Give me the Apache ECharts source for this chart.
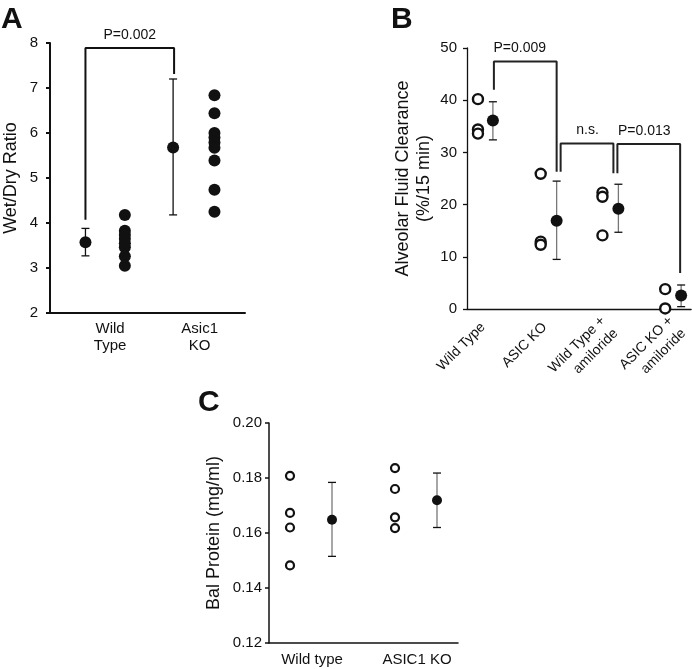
<!DOCTYPE html>
<html>
<head>
<meta charset="utf-8">
<script src="https://cdn.jsdelivr.net/npm/echarts@6/dist/echarts.min.js"></script>
<style>
  html, body { margin: 0; padding: 0; background: #fff; }
  #chart { width: 692px; height: 669px; }
</style>
</head>
<body>
<div id="chart"></div>
<script>
// Panel A - wet/dry ratio
var aLabels = ['Wild\nType', 'Asic1\nKO'];
var aLabelX = [61, 152];
var aMeanX = [36, 125];
var aPointX = [76, 167];
var aMean = [3.57, 5.68];
var aLow = [3.27, 4.18];
var aHigh = [3.88, 7.2];
var aWild = [4.18, 3.83, 3.74, 3.65, 3.55, 3.46, 3.26, 3.05];
var aKO = [6.84, 6.44, 6.0, 5.9, 5.79, 5.67, 5.39, 4.74, 4.25];
var aBracket = [[36, 4.07], [36, 7.89], [126, 7.89], [126, 7.31]];
var aPText = [[81, 7.89, 'P=0.002']];

// Panel B - alveolar fluid clearance
var bLabels = ['Wild Type', 'ASIC KO', 'Wild Type +\namiloride', 'ASIC KO +\namiloride'];
var bLabelX = [16, 78, 143, 211];
var bOpenX = [11, 74, 136, 199];
var bMeanX = [26, 90, 152, 215];
var bOpen = [
  [40.2, 34.4, 33.6],
  [25.9, 12.9, 12.3],
  [22.3, 21.5, 14.1],
  [3.8, 0.1]
];
var bMean = [36.1, 16.9, 19.2, 2.6];
var bLow = [32.4, 9.5, 14.7, 0.45];
var bHigh = [39.7, 24.5, 23.9, 4.6];
var bBrackets = [
  [[27, 42], [27, 47.4], [90, 47.4], [90, 26.3]],
  [[94, 26.3], [94, 31.7], [147, 31.7], [147, 26.0]],
  [[151, 26.0], [151, 31.6], [214, 31.6], [214, 6.9]]
];
var bPText = [[53, 47.4, 'P=0.009'], [121, 31.7, 'n.s.'], [178, 31.6, 'P=0.013']];

// Panel C - BAL protein
var cLabels = ['Wild type', 'ASIC1 KO'];
var cLabelX = [43, 148];
var cOpenX = [21, 126];
var cMeanX = [63, 168];
var cOpen = [
  [0.1808, 0.1673, 0.1620, 0.1482],
  [0.1836, 0.1760, 0.1657, 0.1618]
];
var cMean = [0.1648, 0.1719];
var cLow = [0.1515, 0.1620];
var cHigh = [0.1784, 0.1818];

var font = 'Liberation Sans, Arial, sans-serif';
var ink = '#111';

function errRender(color, cap) {
  return function (params, api) {
    var x = api.value(0);
    var lo = api.coord([x, api.value(1)]);
    var hi = api.coord([x, api.value(2)]);
    return {
      type: 'group',
      children: [
        {type: 'line', shape: {x1: lo[0], y1: lo[1], x2: hi[0], y2: hi[1]}, style: {stroke: color, lineWidth: 1.3}},
        {type: 'line', shape: {x1: lo[0] - cap, y1: lo[1], x2: lo[0] + cap, y2: lo[1]}, style: {stroke: ink, lineWidth: 1.3}},
        {type: 'line', shape: {x1: hi[0] - cap, y1: hi[1], x2: hi[0] + cap, y2: hi[1]}, style: {stroke: ink, lineWidth: 1.3}}
      ]
    };
  };
}

function errData(xs, lo, hi) {
  return xs.map(function (x, i) { return [x, lo[i], hi[i]]; });
}

function column(x, vals) {
  return vals.map(function (v) { return [x, v]; });
}

function textSeries(idx, items) {
  return {
    type: 'scatter', xAxisIndex: idx, yAxisIndex: idx, symbolSize: 0, silent: true,
    itemStyle: {opacity: 1},
    data: items.map(function (t) { return {value: [t[0], t[1]], name: t[2]}; }),
    label: {show: true, position: 'top', distance: 6, formatter: '{b}', color: ink, fontSize: 14, fontFamily: font},
    z: 5
  };
}

var filled = {color: ink, opacity: 1};
var hollow = {color: '#fff', borderColor: ink, borderWidth: 2.4, opacity: 1};

var series = [];

// A
series.push({type: 'line', xAxisIndex: 0, yAxisIndex: 0, data: aBracket, symbol: 'none', lineStyle: {color: ink, width: 2}, silent: true});
series.push(textSeries(0, aPText));
series.push({type: 'custom', xAxisIndex: 0, yAxisIndex: 0, renderItem: errRender(ink, 4), encode: {x: 0, y: [1, 2]}, data: errData(aMeanX, aLow, aHigh)});
series.push({type: 'scatter', xAxisIndex: 0, yAxisIndex: 0, symbolSize: 12, itemStyle: filled, z: 4,
  data: aMeanX.map(function (x, i) { return [x, aMean[i]]; })});
series.push({type: 'scatter', xAxisIndex: 0, yAxisIndex: 0, symbolSize: 12, itemStyle: filled,
  data: column(aPointX[0], aWild).concat(column(aPointX[1], aKO))});

// B
bBrackets.forEach(function (br) {
  series.push({type: 'line', xAxisIndex: 1, yAxisIndex: 1, data: br, symbol: 'none', lineStyle: {color: '#222', width: 2}, silent: true});
});
series.push(textSeries(1, bPText));
series.push({type: 'custom', xAxisIndex: 1, yAxisIndex: 1, renderItem: errRender('#777', 4), encode: {x: 0, y: [1, 2]}, data: errData(bMeanX, bLow, bHigh)});
series.push({type: 'scatter', xAxisIndex: 1, yAxisIndex: 1, symbolSize: 12, itemStyle: filled, z: 4,
  data: bMeanX.map(function (x, i) { return [x, bMean[i]]; })});
var bOpenData = [];
bOpen.forEach(function (vals, i) { bOpenData = bOpenData.concat(column(bOpenX[i], vals)); });
series.push({type: 'scatter', xAxisIndex: 1, yAxisIndex: 1, symbolSize: 10, itemStyle: hollow, z: 4, data: bOpenData});

// C
series.push({type: 'custom', xAxisIndex: 2, yAxisIndex: 2, renderItem: errRender('#777', 4), encode: {x: 0, y: [1, 2]}, data: errData(cMeanX, cLow, cHigh)});
series.push({type: 'scatter', xAxisIndex: 2, yAxisIndex: 2, symbolSize: 10, itemStyle: filled, z: 4,
  data: cMeanX.map(function (x, i) { return [x, cMean[i]]; })});
var cOpenData = [];
cOpen.forEach(function (vals, i) { cOpenData = cOpenData.concat(column(cOpenX[i], vals)); });
series.push({type: 'scatter', xAxisIndex: 2, yAxisIndex: 2, symbolSize: 8, itemStyle: {color: '#fff', borderColor: ink, borderWidth: 2.2, opacity: 1}, z: 4, data: cOpenData});

function xAxisFor(idx, max, labelX, labels, lineW, extra) {
  var lab = Object.assign({
    customValues: labelX,
    formatter: function (v) { return labels[labelX.indexOf(v)] || ''; },
    color: ink, fontSize: 15, fontFamily: font, margin: 7, lineHeight: 17
  }, extra || {});
  return {
    type: 'value', gridIndex: idx, min: 0, max: max,
    axisLine: {show: true, onZero: false, lineStyle: {color: ink, width: lineW}},
    axisTick: {show: false}, splitLine: {show: false},
    axisLabel: lab
  };
}

function yAxisFor(idx, min, max, interval, name, gap, lineW, margin, fmt) {
  return {
    type: 'value', gridIndex: idx, min: min, max: max, interval: interval,
    name: name, nameLocation: 'middle', nameGap: gap,
    nameTextStyle: {color: ink, fontSize: 18, fontFamily: font, lineHeight: 21},
    axisLine: {show: true, lineStyle: {color: ink, width: lineW}},
    axisTick: {show: true, length: 4, lineStyle: {color: ink, width: lineW}},
    splitLine: {show: false},
    axisLabel: {color: ink, fontSize: 15, fontFamily: font, margin: margin, formatter: fmt}
  };
}

var chart = echarts.init(document.getElementById('chart'), null, {renderer: 'canvas'});
chart.setOption({
  animation: false,
  backgroundColor: '#fff',
  title: [
    {text: 'A', left: -4, top: 0, textStyle: {fontSize: 30, fontWeight: 'bold', color: ink, fontFamily: font}},
    {text: 'B', left: 386, top: 0, textStyle: {fontSize: 30, fontWeight: 'bold', color: ink, fontFamily: font}},
    {text: 'C', left: 193, top: 383, textStyle: {fontSize: 30, fontWeight: 'bold', color: ink, fontFamily: font}}
  ],
  grid: [
    {left: 47, top: 43, width: 198, height: 270},
    {left: 467, top: 48, width: 225, height: 261},
    {left: 269, top: 423, width: 189, height: 220}
  ],
  xAxis: [
    xAxisFor(0, 198, aLabelX, aLabels, 2),
    xAxisFor(1, 225, bLabelX, bLabels, 1.3, {rotate: 45, fontSize: 14, lineHeight: 18, margin: 16}),
    xAxisFor(2, 189, cLabelX, cLabels, 1.5, {margin: 8})
  ],
  yAxis: [
    yAxisFor(0, 2, 8, 1, 'Wet/Dry Ratio', 28, 2, 12),
    yAxisFor(1, 0, 50, 10, 'Alveolar Fluid Clearance\n(%/15 min)', 32, 1.3, 10),
    yAxisFor(2, 0.12, 0.2, 0.02, 'Bal Protein (mg/ml)', 44, 1.5, 7, function (v) { return v.toFixed(2); })
  ],
  series: series
});
</script>
</body>
</html>
